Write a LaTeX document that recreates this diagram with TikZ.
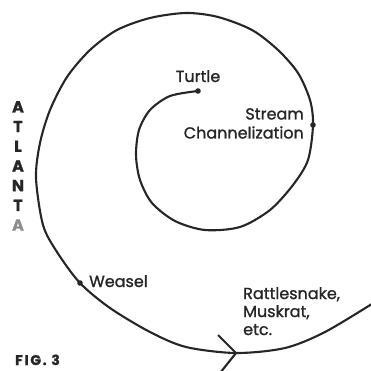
\documentclass[tikz,border=0pt]{standalone}
\usepackage{fontspec}
\setmainfont{Poppins}[FakeBold=1.2]
\begin{document}
\begin{tikzpicture}[x=1pt,y=-1pt,
        lbl/.style={font=\fontsize{16}{19}\selectfont, text=black!85, inner sep=0pt},
        blob/.style={fill=black!85}]
        \useasboundingbox (0,0) rectangle (371,371);
        % the spiral, from the turtle outwards
        \draw[line width=2.1pt, black!85] plot[smooth] coordinates {
                (198,91) (170,96) (150,110) (139,130) (136,155) (140,180) (152,203)
                (175,221) (205,230) (240,227) (270,210) (293,185) (308,160) (313,125)
                (310,100) (298,73) (278,50) (252,30) (218,17) (186,13) (150,18) (117,30)
                (90,50) (67,77) (50,110) (40,143) (36,178) (43,225) (57,252) (80,283)
                (110,308) (150,332) (186,347) (236,353) (285,348) (325,332) (375,302)};
        % arrow head on the outer turn
        \coordinate (tip) at (236,353);
        \draw[line width=2.1pt, black!85, line join=miter] (218,335) -- (tip) -- (220,373);
        % dots on the spiral
        \coordinate (turtledot) at (198,91);
        \coordinate (streamdot) at (313,125);
        \coordinate (weaseldot) at (80,283);
        \fill[blob] (turtledot) circle (2.8pt);
        \fill[blob] (streamdot) circle (2.8pt);
        \fill[blob] (weaseldot) circle (2.8pt);
        % labels
        \node[lbl, anchor=base] (turtle) at (198,82) {Turtle};
        \node[lbl, anchor=north east, align=right] (stream) at (304,108) {Stream\\Channelization};
        \node[lbl, anchor=base west] (weasel) at (89,287) {Weasel};
        \node[lbl, anchor=north west, align=left, font=\fontsize{16}{18}\selectfont] (others) at (243,287) {Rattlesnake,\\Muskrat,\\etc.};
        \node[lbl, anchor=north, align=center, font=\fontsize{16}{19.7}\bfseries] (city) at (18,101)
                {A\\T\\L\\A\\N\\T\\{\color{black!45}A}};
        \node[lbl, anchor=base west, font=\fontsize{14}{16}\bfseries\addfontfeature{LetterSpace=12}] (fig) at (15,365) {FIG. 3};
\end{tikzpicture}
\end{document}
